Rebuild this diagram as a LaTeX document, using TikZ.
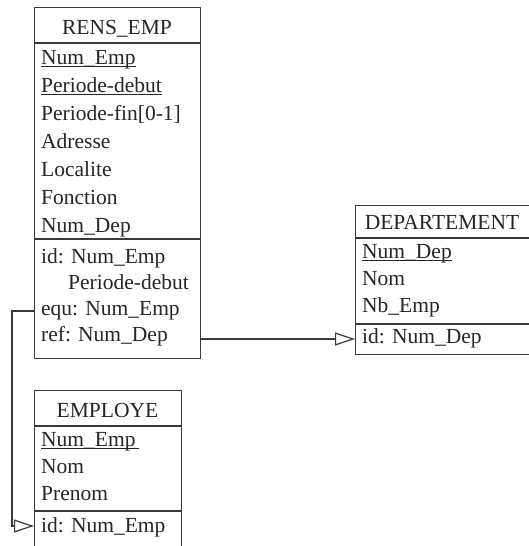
\documentclass[tikz,border=0pt]{standalone}
\usepackage{fontspec}
\setmainfont{Liberation Serif}
\usetikzlibrary{arrows.meta}
\definecolor{ink}{HTML}{262626}
\definecolor{rulec}{HTML}{3A3A3A}
% underline laid just under the baseline, merging with underscores
\newcommand{\keyul}[1]{\setbox0\hbox{#1}\rlap{\rule[-3.2pt]{\wd0}{1.1pt}}\box0}
\tikzset{
  tbl/.style={draw=rulec, line width=1.3pt, rectangle, anchor=north west, inner sep=0pt},
  ttl/.style={anchor=base, inner sep=0pt, text=ink, font=\fontsize{21.5pt}{28pt}\selectfont},
  fld/.style={anchor=base west, inner sep=0pt, text=ink, font=\fontsize{21.5pt}{28pt}\selectfont},
  sepline/.style={draw=rulec, line width=1.3pt},
  link/.style={draw=rulec, line width=1.1pt},
  reftip/.style={-{Triangle[open, length=20pt, width=13pt, line width=1.2pt]}}
}
\begin{document}
\begin{tikzpicture}[x=1pt, y=-1pt]
\useasboundingbox (0,0) rectangle (529,546);
\clip (0,0) rectangle (529,546);
\fill[white] (0,0) rectangle (529,546);

% ---- RENS_EMP ----
\node[tbl, minimum width=166pt, minimum height=351pt] (rens) at (34,7) {};
\node[ttl] (rensT) at (117,34) {RENS\_EMP};
\draw[sepline] (rens.west |- 0,43) -- (rens.east |- 0,43);
\node[fld] (r1) at (41,64) {\keyul{Num\_Emp}};
\node[fld] (r2) at (41,92) {\keyul{Periode-debut}};
\node[fld] (r3) at (41,120) {Periode-fin[0-1]};
\node[fld] (r4) at (41,148) {Adresse};
\node[fld] (r5) at (41,176) {Localite};
\node[fld] (r6) at (41,204) {Fonction};
\node[fld] (r7) at (41,232) {Num\_Dep};
\draw[sepline] (rens.west |- 0,239) -- (rens.east |- 0,239);
\node[fld] (rid) at (41,263) {id: Num\_Emp};
\node[fld] (rid2) at (68,289) {Periode-debut};
\node[fld] (requ) at (41,315) {equ: Num\_Emp};
\node[fld] (rref) at (41,341) {ref: Num\_Dep};

% ---- DEPARTEMENT ----
\node[tbl, minimum width=176pt, minimum height=149pt] (dept) at (355,205) {};
\node[ttl] (deptT) at (442,229) {DEPARTEMENT};
\draw[sepline] (dept.west |- 0,238) -- (dept.east |- 0,238);
\node[fld] (d1) at (362,258) {\keyul{Num\_Dep}};
\node[fld] (d2) at (362,285) {Nom};
\node[fld] (d3) at (362,312) {Nb\_Emp};
\draw[sepline] (dept.west |- 0,324) -- (dept.east |- 0,324);
\node[fld] (did) at (362,343) {id: Num\_Dep};

% ---- EMPLOYE ----
\node[tbl, minimum width=147pt, minimum height=170pt] (emp) at (34,390) {};
\node[ttl] (empT) at (107.5,417) {EMPLOYE};
\draw[sepline] (emp.west |- 0,426) -- (emp.east |- 0,426);
\node[fld] (e1) at (41,446) {\keyul{Num\_Emp\,}};
\node[fld] (e2) at (41,473) {Nom};
\node[fld] (e3) at (41,500) {Prenom};
\draw[sepline] (emp.west |- 0,511) -- (emp.east |- 0,511);
\node[fld] (eid) at (41,532) {id: Num\_Emp};

% ---- references ----
\coordinate (refy) at ([yshift=2pt]rref.base);
\coordinate (equy) at ([yshift=4pt]requ.base);
\coordinate (eidy) at ([yshift=6pt]eid.base);
\coordinate (bend) at ([xshift=-22pt]rens.west |- equy);
\draw[link, reftip] (rens.east |- refy) -- (dept.west |- refy);
\draw[link, reftip] (rens.west |- equy) -- (bend) |- (emp.west |- eidy);
\end{tikzpicture}
\end{document}
